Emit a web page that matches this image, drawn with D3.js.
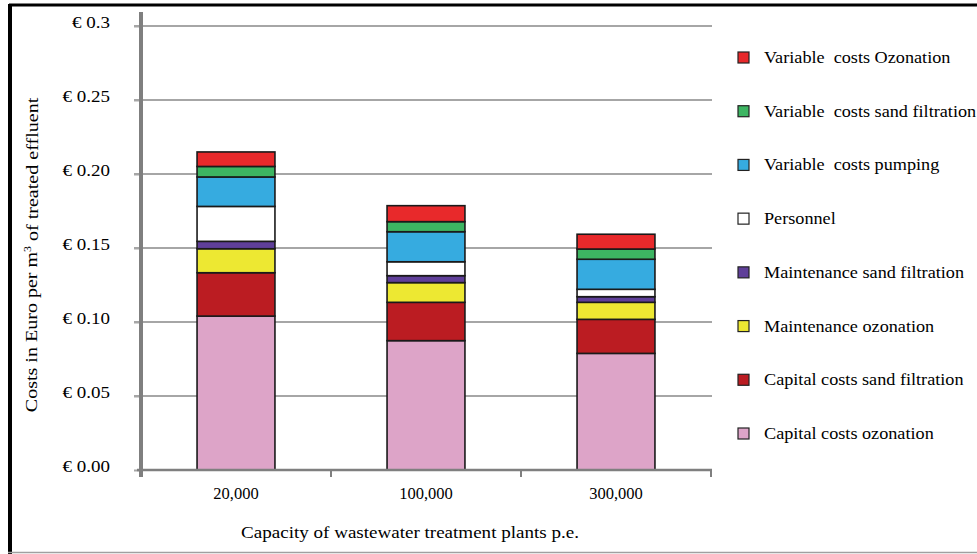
<!DOCTYPE html>
<html>
<head>
<meta charset="utf-8">
<script src="https://cdn.jsdelivr.net/npm/d3@7/dist/d3.min.js"></script>
<style>
  html, body { margin: 0; padding: 0; background: #fff; }
  svg { display: block; font-family: "Liberation Serif", "Times New Roman", serif; }
</style>
</head>
<body>
<svg id="chart" width="977" height="554"></svg>
<script>
// Plant capacities (population equivalents)
const categories = ["20,000", "100,000", "300,000"];

// Cost components, bottom of the stack first
const seriesNames = [
  "Capital costs ozonation",
  "Capital costs sand filtration",
  "Maintenance ozonation",
  "Maintenance sand filtration",
  "Personnel",
  "Variable costs pumping",
  "Variable costs sand filtration",
  "Variable costs Ozonation"
];
const seriesColors = [
  "#dda4c8", "#bb1c22", "#ede832", "#5f3f99",
  "#ffffff", "#36abe0", "#3db562", "#e8292b"
];

// Euro per m³ for each component, one value per capacity
const capitalOzonation      = [0.104, 0.0874, 0.0788];
const capitalSandFiltration = [0.0293, 0.0259, 0.0230];
const maintenanceOzonation  = [0.0162, 0.0133, 0.0115];
const maintenanceSand       = [0.0050, 0.0047, 0.0038];
const personnel             = [0.0236, 0.0094, 0.0050];
const variablePumping       = [0.0199, 0.0203, 0.0203];
const variableSand          = [0.0071, 0.0068, 0.0069];
const variableOzonation     = [0.0098, 0.0108, 0.0100];

const yTickValues = [0, 0.05, 0.10, 0.15, 0.20, 0.25, 0.3];
const yTickLabels = ["€ 0.00", "€ 0.05", "€ 0.10", "€ 0.15", "€ 0.20", "€ 0.25", "€ 0.3"];

const seriesValues = [
  capitalOzonation, capitalSandFiltration, maintenanceOzonation, maintenanceSand,
  personnel, variablePumping, variableSand, variableOzonation
];

const rows = categories.map((c, i) => {
  const r = { category: c };
  seriesNames.forEach((s, k) => { r[s] = seriesValues[k][i]; });
  return r;
});

// Widen glyphs horizontally (the typeface runs wide in this layout)
function stretch(sel, factor) {
  sel.each(function () {
    const w = this.getComputedTextLength();
    d3.select(this)
      .attr("textLength", w * factor)
      .attr("lengthAdjust", "spacingAndGlyphs");
  });
}

const svg = d3.select("#chart");

// Outer frame
svg.append("line").attr("x1", 9).attr("x2", 977).attr("y1", 5).attr("y2", 5)
  .attr("stroke", "#000").attr("stroke-width", 3);
svg.append("line").attr("x1", 10).attr("x2", 10).attr("y1", 4).attr("y2", 554)
  .attr("stroke", "#000").attr("stroke-width", 4);
svg.append("line").attr("x1", 8).attr("x2", 977).attr("y1", 552.5).attr("y2", 552.5)
  .attr("stroke", "#a0a0a0").attr("stroke-width", 1.5);

const plot = { left: 141, right: 711, top: 26, bottom: 470 };

const x = d3.scaleBand()
  .domain(categories)
  .range([plot.left, plot.right])
  .paddingInner(0.59)
  .paddingOuter(0.295);

const xCat = d3.scaleBand().domain(categories).range([plot.left, plot.right]).padding(0);

const y = d3.scaleLinear().domain([0, 0.3]).range([plot.bottom, plot.top]);

// Horizontal gridlines
svg.append("g")
  .selectAll("line")
  .data(yTickValues.slice(1))
  .join("line")
  .attr("x1", plot.left - 7)
  .attr("x2", plot.right + 1)
  .attr("y1", d => y(d))
  .attr("y2", d => y(d))
  .attr("stroke", "#a6a6a6")
  .attr("stroke-width", 2);

// Stacked bars
const stack = d3.stack().keys(seriesNames)(rows);
const layers = svg.append("g")
  .selectAll("g")
  .data(stack)
  .join("g")
  .attr("fill", (d, i) => seriesColors[i]);

layers.selectAll("rect")
  .data(d => d)
  .join("rect")
  .attr("x", d => x(d.data.category))
  .attr("width", x.bandwidth())
  .attr("y", d => y(d[1]))
  .attr("height", d => y(d[0]) - y(d[1]))
  .attr("stroke", "#1a1a1a")
  .attr("stroke-width", 1.6);

// Y axis
const yAxis = d3.axisLeft(y)
  .tickValues(yTickValues)
  .tickFormat((d, i) => yTickLabels[i])
  .tickSize(7)
  .tickPadding(24);

const gy = svg.append("g")
  .attr("transform", `translate(${plot.left},0)`)
  .call(yAxis);
gy.select(".domain").remove();
gy.selectAll(".tick line").attr("stroke", "#a6a6a6").attr("stroke-width", 2);
gy.selectAll(".tick text")
  .attr("font-family", "Liberation Serif, serif")
  .attr("font-size", 16.5)
  .attr("fill", "#000")
  .attr("dy", "0.1em")
  .call(stretch, 1.15);

svg.append("line")
  .attr("x1", plot.left).attr("x2", plot.left)
  .attr("y1", 12).attr("y2", plot.bottom + 7)
  .attr("stroke", "#7f7f7f").attr("stroke-width", 4);

// X axis with boundary ticks between categories
const gx = svg.append("g");
gx.append("line")
  .attr("x1", plot.left - 4).attr("x2", plot.right + 1)
  .attr("y1", plot.bottom).attr("y2", plot.bottom)
  .attr("stroke", "#7f7f7f").attr("stroke-width", 2.5);
const boundaries = categories.map(c => xCat(c) + xCat.bandwidth());
gx.selectAll("line.tk")
  .data(boundaries)
  .join("line")
  .attr("class", "tk")
  .attr("x1", d => d).attr("x2", d => d)
  .attr("y1", plot.bottom).attr("y2", plot.bottom + 7)
  .attr("stroke", "#7f7f7f").attr("stroke-width", 2);

gx.selectAll("text")
  .data(categories)
  .join("text")
  .attr("x", d => xCat(d) + xCat.bandwidth() / 2)
  .attr("y", 499)
  .attr("text-anchor", "middle")
  .attr("font-size", 16.5)
  .text(d => d);

// Axis titles
svg.append("text")
  .attr("x", 410)
  .attr("y", 538)
  .attr("text-anchor", "middle")
  .attr("font-size", 17)
  .text("Capacity of wastewater treatment plants p.e.")
  .call(stretch, 1.12);

const yTitle = svg.append("text")
  .attr("transform", "translate(37,255) rotate(-90)")
  .attr("text-anchor", "middle")
  .attr("font-size", 17);
yTitle.append("tspan").text("Costs in Euro per m");
yTitle.append("tspan").attr("font-size", 10).attr("dy", "-0.6em").text("3");
yTitle.append("tspan").attr("dy", "0.4em").text(" of treated effluent");
{
  const node = yTitle.node();
  const w = node.getComputedTextLength();
  yTitle.attr("transform", "translate(37,255) rotate(-90) scale(1.18,1)");
}

// Legend, top entry is the top of the stack
const legendOrder = seriesNames.map((s, i) => i).reverse();
const legendRow = d3.scaleLinear().domain([0, 7]).range([57, 433]);
const legend = svg.append("g")
  .selectAll("g")
  .data(legendOrder)
  .join("g")
  .attr("transform", (d, i) => `translate(738,${legendRow(i)})`);

legend.append("rect")
  .attr("x", 0).attr("y", -5)
  .attr("width", 11).attr("height", 11)
  .attr("fill", d => seriesColors[d])
  .attr("stroke", "#222")
  .attr("stroke-width", 1.2);

legend.append("text")
  .attr("x", 26)
  .attr("y", 6)
  .attr("font-size", 17)
  .attr("xml:space", "preserve")
  .style("white-space", "pre")
  .text(d => seriesNames[d].replace("Variable costs", "Variable  costs"))
  .call(stretch, 1.07);
</script>
</body>
</html>
